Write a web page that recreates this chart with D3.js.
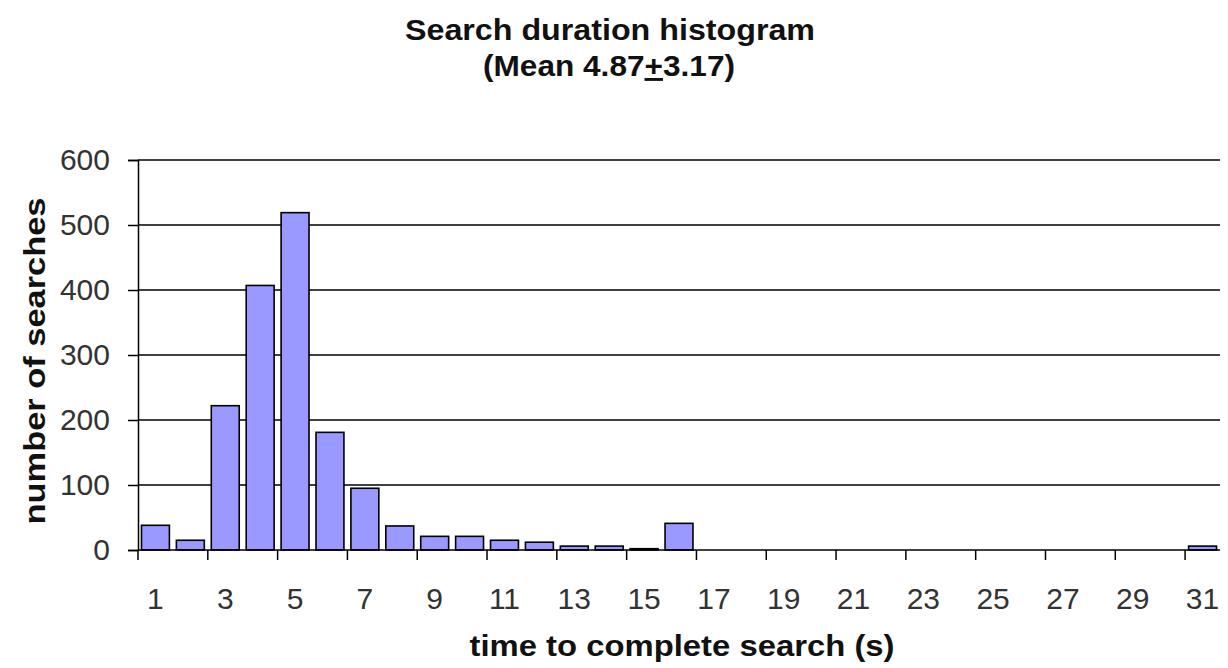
<!DOCTYPE html>
<html>
<head>
<meta charset="utf-8">
<script src="https://cdn.jsdelivr.net/npm/d3@7"></script>
<style>
  body { margin: 0; background: #fff; }
  svg { display: block; }
  text { font-family: "Liberation Sans", Arial, sans-serif; }
</style>
</head>
<body>
<svg id="chart" width="1228" height="668"></svg>
<script>
const categories = d3.range(1, 32).map(String);
const counts = [38, 15, 222, 407, 519, 181, 95, 37, 21, 21, 15, 12, 6, 6, 2, 41,
                0, 0, 0, 0, 0, 0, 0, 0, 0, 0, 0, 0, 0, 0, 6];
const yTicks = [0, 100, 200, 300, 400, 500, 600];
const xTickLabels = ["1","3","5","7","9","11","13","15","17","19","21","23","25","27","29","31"];

const svg = d3.select("#chart");
const m = { left: 138, right: 1220, top: 160, bottom: 550 };

const x = d3.scaleBand().domain(categories).range([m.left, m.right])
  .paddingInner(0.2).paddingOuter(0.1);
const y = d3.scaleLinear().domain([0, 600]).range([m.bottom, m.top]);

// gridlines
svg.append("g").selectAll("line").data(yTicks.filter(d => d > 0)).join("line")
  .attr("x1", m.left).attr("x2", m.right)
  .attr("y1", d => y(d)).attr("y2", d => y(d))
  .attr("stroke", "#000").attr("stroke-width", 1.4);

// bars
svg.append("g").selectAll("rect").data(counts).join("rect")
  .attr("x", (d, i) => x(categories[i]))
  .attr("width", x.bandwidth())
  .attr("y", d => y(d))
  .attr("height", d => y(0) - y(d))
  .attr("fill", "#9999ff")
  .attr("stroke", "#000")
  .attr("stroke-width", 1.6);

// y axis
const yAxis = svg.append("g").attr("transform", `translate(${m.left},0)`)
  .call(d3.axisLeft(y).tickValues(yTicks).tickSize(10).tickPadding(18));
yAxis.select(".domain").attr("stroke", "#000").attr("stroke-width", 1.5);
yAxis.selectAll(".tick line").attr("stroke", "#000").attr("stroke-width", 1.5);
yAxis.selectAll(".tick text").attr("font-size", 30).attr("fill", "#333")
  .attr("font-family", "Liberation Sans, Arial, sans-serif");

// x axis baseline
svg.append("line").attr("x1", m.left).attr("x2", m.right)
  .attr("y1", y(0)).attr("y2", y(0)).attr("stroke", "#000").attr("stroke-width", 1.5);

// x ticks at category boundaries every 2 categories
const boundaries = categories.filter((c, i) => i % 2 === 0).map(c => x(c) - x.step() * x.paddingInner() / 2);
svg.append("g").selectAll("line").data(boundaries).join("line")
  .attr("x1", d => d).attr("x2", d => d)
  .attr("y1", y(0)).attr("y2", y(0) + 10)
  .attr("stroke", "#000").attr("stroke-width", 1.5);

// x labels
svg.append("g").selectAll("text").data(xTickLabels).join("text")
  .attr("x", d => x(d) + x.bandwidth() / 2)
  .attr("y", 609)
  .attr("text-anchor", "middle")
  .attr("font-size", 30).attr("fill", "#333")
  .text(d => d);

// titles
svg.append("text").attr("x", 610).attr("y", 40).attr("text-anchor", "middle")
  .attr("font-size", 29).attr("font-weight", "bold").attr("fill", "#111")
  .attr("textLength", 410).attr("lengthAdjust", "spacingAndGlyphs")
  .text("Search duration histogram");
const sub = svg.append("text").attr("x", 609).attr("y", 76).attr("text-anchor", "middle")
  .attr("font-size", 29).attr("font-weight", "bold").attr("fill", "#111")
  .attr("textLength", 252).attr("lengthAdjust", "spacingAndGlyphs");
sub.append("tspan").text("(Mean 4.87");
sub.append("tspan").attr("text-decoration", "underline").text("+");
sub.append("tspan").text("3.17)");

svg.append("text")
  .attr("transform", "translate(45,361) rotate(-90)")
  .attr("text-anchor", "middle")
  .attr("font-size", 29).attr("font-weight", "bold").attr("fill", "#111")
  .attr("textLength", 327).attr("lengthAdjust", "spacingAndGlyphs")
  .text("number of searches");

svg.append("text").attr("x", 682).attr("y", 656).attr("text-anchor", "middle")
  .attr("font-size", 29).attr("font-weight", "bold").attr("fill", "#111")
  .attr("textLength", 425).attr("lengthAdjust", "spacingAndGlyphs")
  .text("time to complete search (s)");
</script>
</body>
</html>
